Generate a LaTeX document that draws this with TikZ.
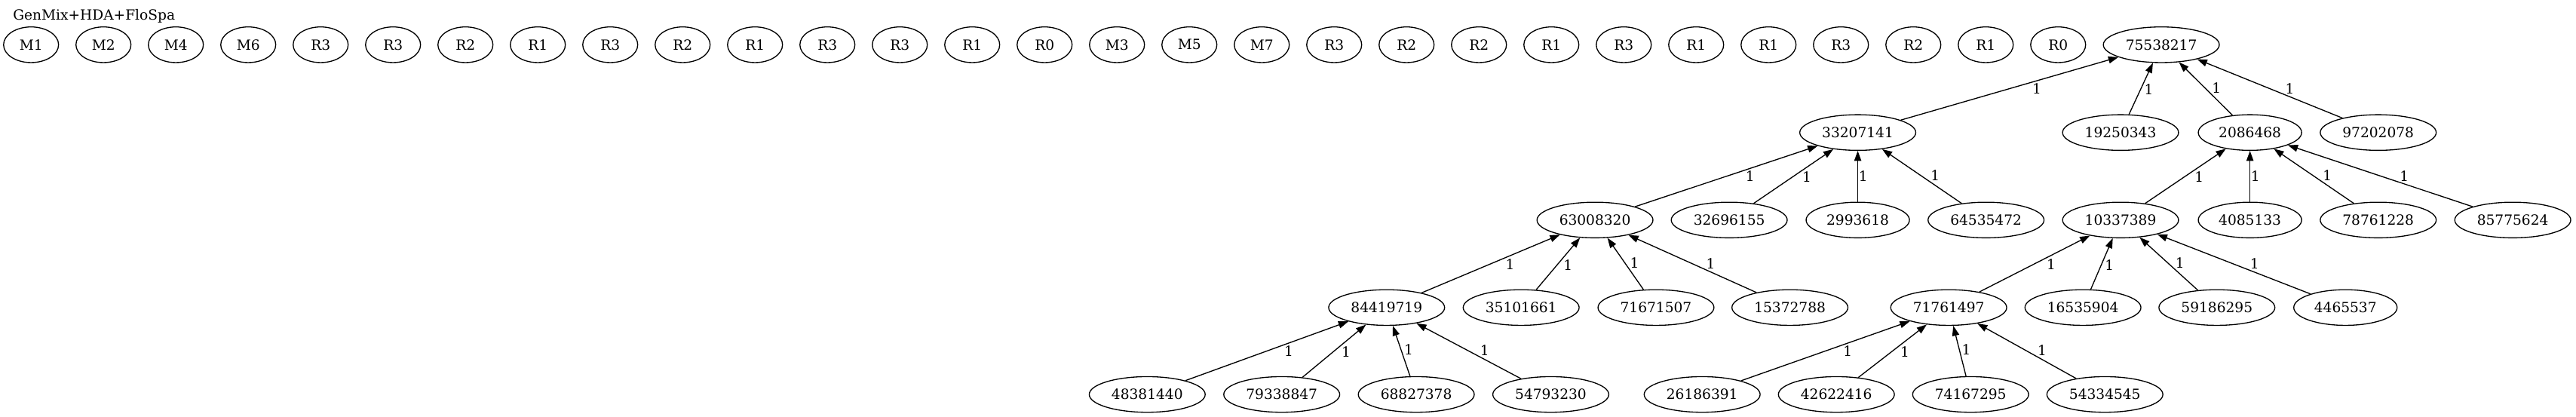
\documentclass[tikz,border=0pt]{standalone}
\usepackage{fontspec}
\setmainfont{DejaVu Serif}
\usepackage{tikz}
\usetikzlibrary{shapes.geometric,arrows.meta}
\tikzset{
  oval/.style={ellipse,draw,line width=1pt,minimum width=1.93cm,minimum height=1.25cm,
               inner xsep=5.3pt,inner ysep=0pt},
  link/.style={-{Triangle[length=10pt,width=7pt]},line width=1pt},
  lbl/.style={auto,swap,pos=#1,inner sep=.5pt},
  lbl/.default=.5,
}
\begin{document}
\begin{tikzpicture}[x=1cm,y=1cm,font=\fontsize{14}{17}\selectfont]
  \useasboundingbox (0,0) rectangle (90.38,-14.63);
  \node[anchor=base west,inner sep=0pt] (title) at (0.45,-0.71) {GenMix+HDA+FloSpa};
  % Loose modules
  \foreach \lab [count=\k from 0] in {M1,M2,M4,M6,R3,R3,R2,R1,R3,R2,R1,R3,R3,R1,R0,
      M3,M5,M7,R3,R2,R2,R1,R3,R1,R1,R3,R2,R1,R0}{
    \node[oval] (c\k) at (1.09+\k*2.54,-1.57) {\lab};
  }
  % Tree
  \node[oval] (n75538217) at (75.83,-1.57) {75538217};
  \foreach \id/\x in {33207141/65.18,19250343/74.40,2086468/78.94,97202078/83.44}{
    \node[oval] (n\id) at (\x,-4.65) {\id};
  }
  \foreach \id/\x in {63008320/55.96,32696155/60.67,2993618/65.18,64535472/69.68,
      10337389/74.40,4085133/78.94,78761228/83.44,85775624/88.16}{
    \node[oval] (n\id) at (\x,-7.72) {\id};
  }
  \foreach \id/\x in {84419719/48.65,35101661/53.37,71671507/58.10,15372788/62.80,
      71761497/68.37,16535904/73.08,59186295/77.78,4465537/82.29}{
    \node[oval] (n\id) at (\x,-10.79) {\id};
  }
  \foreach \id/\x in {48381440/40.25,79338847/44.97,68827378/49.69,54793230/54.41,
      26186391/59.72,42622416/64.43,74167295/69.14,54334545/73.85}{
    \node[oval] (n\id) at (\x,-13.84) {\id};
  }
  % Weighted links, child to parent
  \foreach \c/\p/\q in {33207141/75538217/.6,19250343/75538217/.6,2086468/75538217/.4,
      97202078/75538217/.4,63008320/33207141/.6,32696155/33207141/.6,2993618/33207141/.5,
      64535472/33207141/.4,10337389/2086468/.6,4085133/2086468/.5,78761228/2086468/.4,
      85775624/2086468/.4,84419719/63008320/.6,35101661/63008320/.6,71671507/63008320/.4,
      15372788/63008320/.4,71761497/10337389/.6,16535904/10337389/.6,59186295/10337389/.4,
      4465537/10337389/.4,48381440/84419719/.6,79338847/84419719/.6,68827378/84419719/.4,
      54793230/84419719/.4,26186391/71761497/.6,42622416/71761497/.6,74167295/71761497/.4,
      54334545/71761497/.4}{
    \draw[link] (n\c) -- node[lbl=\q] {1} (n\p);
  }
\end{tikzpicture}
\end{document}
